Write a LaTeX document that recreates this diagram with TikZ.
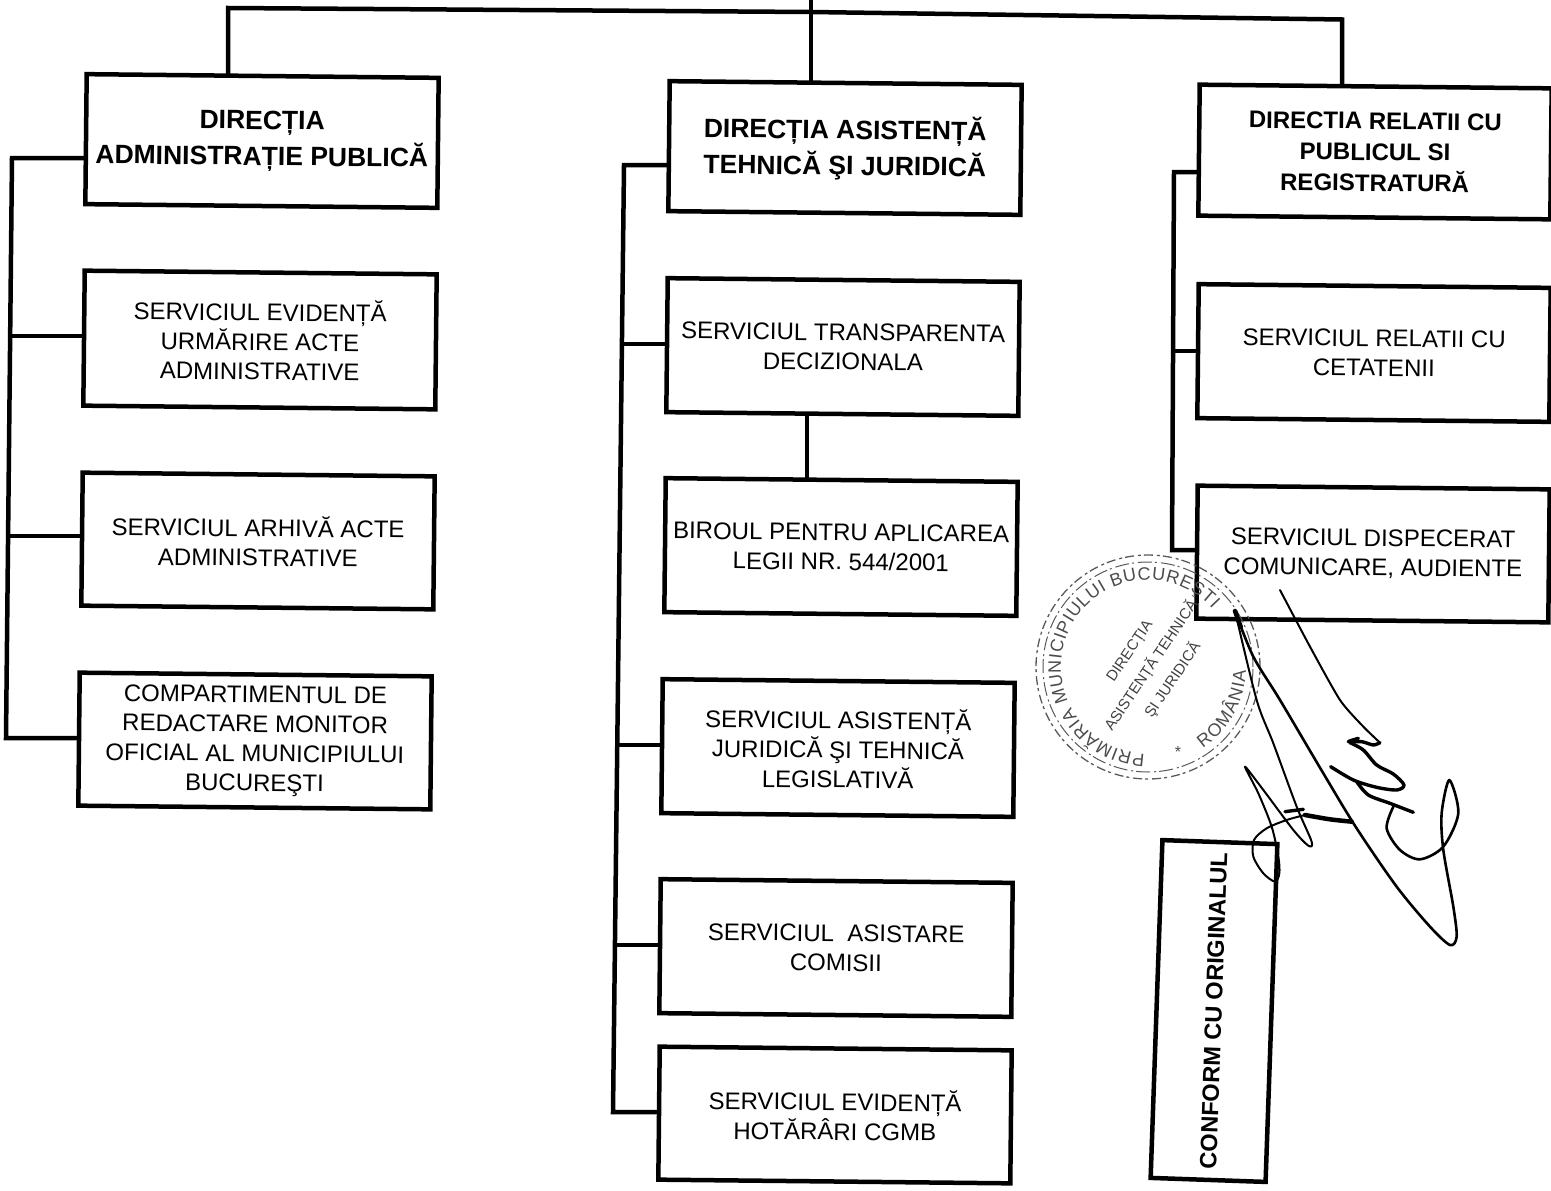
\documentclass[tikz,border=0pt]{standalone}
\usepackage{fontspec}
\setmainfont{Liberation Sans}
\usetikzlibrary{decorations.text}
\tikzset{
  box/.style={draw=black,line width=4.5pt,rotate=-0.6,minimum width=352pt,minimum height=133pt,align=center,inner sep=0pt,text=black,font=\fontsize{24}{29.5}\selectfont},
  boldA/.style={font=\fontsize{26.5}{36}\selectfont\bfseries},
  boldB/.style={font=\fontsize{24}{31}\selectfont\bfseries},
  conn/.style={draw=black,line width=4.5pt},
  stampline/.style={draw=black!65,line width=1.3pt},
  sig/.style={draw=black,line width=2pt,line cap=round,line join=round},
  sigb/.style={draw=black,line width=3.4pt,line cap=round,line join=round}
}
\begin{document}
\begin{tikzpicture}[x=1pt,y=-1pt]
\useasboundingbox (0,0) rectangle (1551,1191);
% left column
\node[box,boldA,minimum height=130pt] (b1) at (262,141) {DIRECȚIA\\ADMINISTRAȚIE PUBLICĂ};
\node[box,minimum height=135pt] (b2) at (260,340) {SERVICIUL EVIDENȚĂ\\URMĂRIRE ACTE\\ADMINISTRATIVE};
\node[box] (b3) at (258,541) {SERVICIUL ARHIVĂ ACTE\\ADMINISTRATIVE};
\node[box] (b4) at (255,741) {COMPARTIMENTUL DE\\REDACTARE MONITOR\\OFICIAL AL MUNICIPIULUI\\BUCUREŞTI};
% middle column
\node[box,boldA,minimum height=130pt] (c1) at (845,148) {DIRECȚIA ASISTENȚĂ\\TEHNICĂ ŞI JURIDICĂ};
\node[box,minimum height=134pt] (c2) at (843,347) {SERVICIUL TRANSPARENTA\\DECIZIONALA};
\node[box,minimum height=134pt] (c3) at (841,547) {BIROUL PENTRU APLICAREA\\LEGII NR. 544/2001};
\node[box,minimum height=134pt] (c4) at (838,748) {SERVICIUL ASISTENȚĂ\\JURIDICĂ ŞI TEHNICĂ\\LEGISLATIVĂ};
\node[box,minimum height=134pt] (c5) at (836,948) {SERVICIUL\ \ ASISTARE\\COMISII};
\node[box] (c6) at (835,1115) {SERVICIUL EVIDENȚĂ\\HOTĂRÂRI CGMB};
% right column
\node[box,boldB,minimum height=131pt] (d1) at (1375,152) {DIRECTIA RELATII CU\\PUBLICUL SI\\REGISTRATURĂ};
\node[box,minimum height=134pt] (d2) at (1374,353) {SERVICIUL RELATII CU\\CETATENII};
\node[box] (d3) at (1373,554) {SERVICIUL DISPECERAT\\COMUNICARE, AUDIENTE};
% stamped box
\node[draw=black,line width=4.5pt,rotate=88,minimum width=338pt,minimum height=115pt,inner sep=0pt,font=\fontsize{23.6}{29}\selectfont\bfseries] (conf) at (1214,1011) {\raisebox{1pt}{CONFORM CU ORIGINALUL}};
% top connectors
\coordinate (top) at (811,0);
\coordinate (tl) at (228,8);
\coordinate (tm) at (811,12);
\coordinate (tr) at (1342,19.5);
\draw[conn] (tl |- b1.north) -- (tl) -- (tm) -- (tr) -- (tr |- d1.north);
\draw[conn,line width=4pt] (top) -- (top |- c1.north);
% left trunk
\coordinate (l1) at (12,158);
\coordinate (l2) at (10,336);
\coordinate (l3) at (9,536);
\coordinate (l4) at (6,738);
\draw[conn] (b1.west |- l1) -- (l1) -- (l4) -- (b4.west |- l4);
\draw[conn] (l2) -- (b2.west |- l2);
\draw[conn] (l3) -- (b3.west |- l3);
% middle trunk
\coordinate (m1) at (624,165);
\coordinate (m2) at (621,344);
\coordinate (m4) at (617,745);
\coordinate (m5) at (615,945);
\coordinate (m6) at (613,1112);
\draw[conn] (c1.west |- m1) -- (m1) -- (m6) -- (c6.west |- m6);
\draw[conn] (m2) -- (c2.west |- m2);
\draw[conn] (m4) -- (c4.west |- m4);
\draw[conn] (m5) -- (c5.west |- m5);
\coordinate (lnk) at (807,0);
\draw[conn] (lnk |- c2.south) -- (lnk |- c3.north);
% right trunk
\coordinate (r1) at (1174,172);
\coordinate (r2) at (1173,351);
\coordinate (r3) at (1172,550);
\draw[conn] (d1.west |- r1) -- (r1) -- (r3) -- (d3.west |- r3);
\draw[conn] (r2) -- (d2.west |- r2);
% stamp
\coordinate (seal) at (1148,667);
\draw[stampline,dash pattern=on 9pt off 3pt on 3pt off 4pt] (seal) circle[radius=112pt];
\draw[stampline,line width=1pt,dash pattern=on 14pt off 4pt on 2pt off 3pt] (seal) circle[radius=105pt];
\path[decorate,decoration={text along path,text align={fit to path},text={|\fontsize{18}{18}\selectfont\color{black!70}|PRIMĂRIA MUNICIPIULUI BUCUREŞTI}}]
  (seal) ++(-92:87pt) arc[start angle=-92,end angle=-318,radius=87pt];
\path[decorate,decoration={text along path,text align={fit to path},text={|\fontsize{18}{18}\selectfont\color{black!70}|ROMÂNIA}}]
  (seal) ++(-56:98pt) arc[start angle=-56,end angle=-2,radius=98pt];
\node[text=black!70,font=\fontsize{16}{16}\selectfont] (star) at (1178,752) {*};
\node[text=black!75,rotate=56,align=center,font=\fontsize{15}{26}\selectfont] (sealtxt) at (1152,666) {DIRECȚIA\\ASISTENȚĂ TEHNICĂ\\ŞI JURIDICĂ};
% signature
\begin{scope}[shift={(1230,700)},x=0.3333pt,y=-0.3333pt]
\draw[sig] plot[smooth,tension=0.5] coordinates {(15,-267) (80,0) (130,130) (200,320) (245,425) (235,437) (190,390) (100,270) (45,200) (85,280) (125,380) (145,470) (148,520) (135,545) (100,520) (70,470) (72,420) (110,385) (170,360) (225,345)};
\draw[sigb,line width=4.5pt] (15,-267) -- (32,-220);
\draw[sigb] (165,335) -- (220,328);
\draw[sigb,line width=4.5pt] plot[smooth,tension=0.5] coordinates {(225,345) (300,358) (365,365)};
\draw[sig] plot[smooth,tension=0.4] coordinates {(150,-330) (240,-160) (330,0) (400,80) (450,128)};
\draw[sigb] plot[smooth,tension=0.4] coordinates {(450,128) (430,135) (395,125) (355,125) (385,115)};
\draw[sigb] plot[smooth,tension=0.5] coordinates {(360,128) (400,150) (440,195) (490,222) (522,255) (500,270) (440,262) (370,240) (302,200)};
\draw[sigb] plot[smooth,tension=0.5] coordinates {(380,245) (415,285) (480,310) (550,337)};
\draw[sig,line width=2.6pt] plot[smooth,tension=0.5] coordinates {(490,320) (470,385) (510,450) (570,478) (640,440) (685,340) (658,240) (635,340) (640,450) (670,620) (680,710) (660,735) (600,680) (500,560) (380,385) (280,220) (150,0) (70,-130) (15,-267)};
\end{scope}
\end{tikzpicture}
\end{document}
